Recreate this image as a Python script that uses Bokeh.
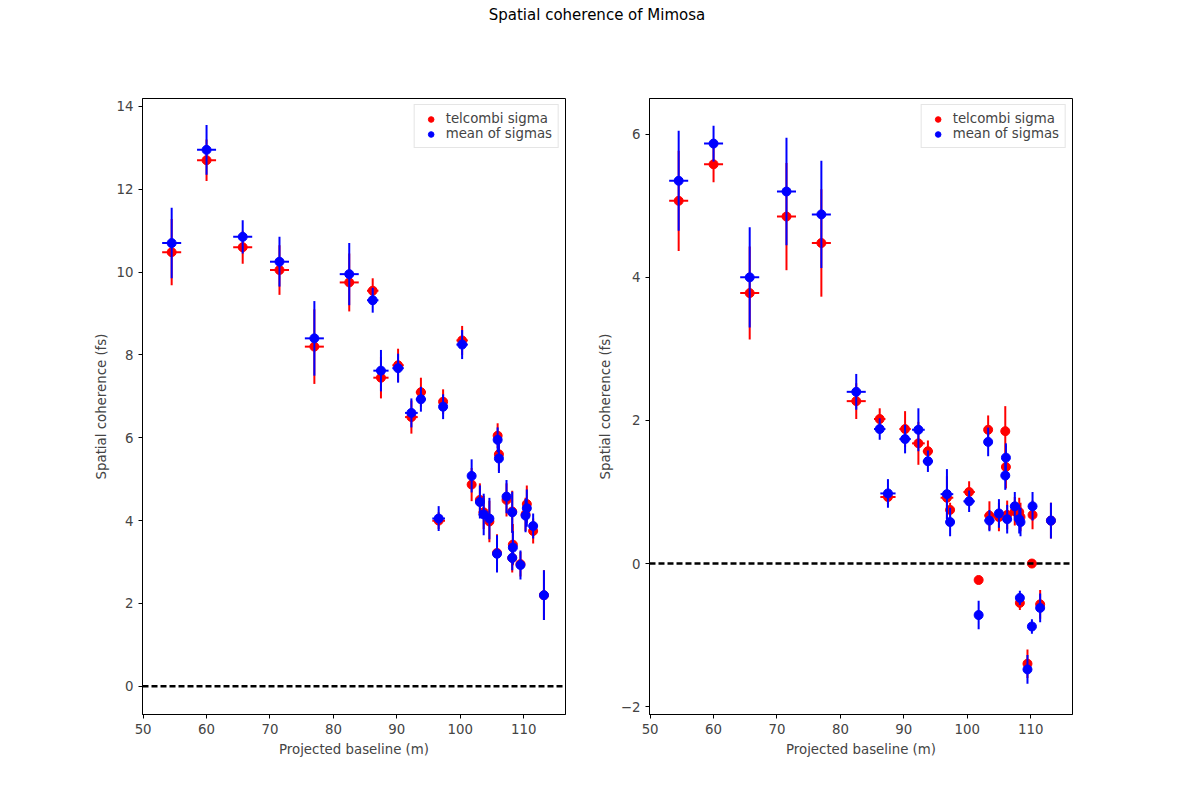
from bokeh.plotting import figure
from bokeh.layouts import column, row
from bokeh.models import Div, Span, Legend, LegendItem, ColumnDataSource
from bokeh.embed import file_html
from bokeh.resources import INLINE

# left panel data
left_x = [54.5, 60, 65.7, 71.5, 77, 82.5, 86.2, 87.5, 90.2, 92.3, 93.8, 96.6, 97.3, 100.3, 101.8,
          103.1, 103.7, 104.6, 105.8, 105.9, 106.1, 107.3, 108.2, 108.3, 108.2, 109.5, 110.5, 110.3, 111.5, 113.2]
left_xerr = [1.5, 1.5, 1.5, 1.5, 1.5, 1.5, 0.9, 1.2, 0.9, 1.0, 0.8, 1.0, 0.6, 0.9, 0.5,
             0.4, 0.8, 0.3, 0, 0, 0, 0.4, 0.3, 0, 0, 0, 0, 0, 0, 0]
left_red = [10.48, 12.7, 10.6, 10.05, 8.2, 9.75, 9.55, 7.45, 7.75, 6.5, 7.1, 4.0, 6.87, 8.35, 4.87,
            4.5, 4.2, 3.98, 3.22, 6.05, 5.6, 4.5, 4.22, 3.42, 3.1, 2.95, 4.4, 4.15, 3.75, 2.2]
left_red_err = [0.8, 0.5, 0.4, 0.6, 0.9, 0.7, 0.3, 0.5, 0.4, 0.4, 0.35, 0.2, 0.3, 0.35, 0.4,
                0.4, 0.4, 0.5, 0.45, 0.3, 0.4, 0.4, 0.5, 0.5, 0.35, 0.3, 0.45, 0.4, 0.3, 0.6]
left_blue = [10.7, 12.95, 10.85, 10.25, 8.4, 9.95, 9.32, 7.62, 7.68, 6.6, 6.93, 4.05, 6.75, 8.25, 5.08,
             4.45, 4.15, 4.05, 3.2, 5.95, 5.5, 4.58, 4.2, 3.35, 3.1, 2.93, 4.3, 4.12, 3.87, 2.2]
left_blue_err = [0.85, 0.6, 0.4, 0.6, 0.9, 0.75, 0.3, 0.5, 0.35, 0.35, 0.3, 0.3, 0.3, 0.35, 0.4,
                 0.4, 0.5, 0.5, 0.45, 0.3, 0.35, 0.4, 0.5, 0.4, 0.3, 0.35, 0.45, 0.4, 0.3, 0.6]

# right panel data
right_x = [54.5, 60, 65.7, 71.5, 77, 82.5, 86.2, 87.5, 90.2, 92.3, 93.8, 96.8, 97.3, 100.3, 101.8,
           103.3, 103.5, 105, 106, 106.1, 106.3, 107.5, 108.2, 108.3, 108.4, 109.5, 110.2, 110.3, 111.5, 113.2]
right_xerr = left_xerr
right_red = [5.07, 5.58, 3.78, 4.85, 4.48, 2.27, 2.02, 0.93, 1.88, 1.68, 1.57, 0.92, 0.75, 1.0, -0.23,
             1.87, 0.67, 0.65, 1.85, 1.35, 0.68, 0.73, 0.72, -0.55, 0.65, -1.4, 0.0, 0.68, -0.57, 0.6]
right_red_err = [0.7, 0.25, 0.65, 0.75, 0.75, 0.25, 0.15, 0.1, 0.25, 0.3, 0.15, 0.3, 0.1, 0.15, 0.03,
                 0.2, 0.2, 0.2, 0.35, 0.3, 0.2, 0.2, 0.2, 0.1, 0.2, 0.2, 0.03, 0.2, 0.2, 0.25]
right_blue = [5.35, 5.87, 4.0, 5.2, 4.88, 2.4, 1.88, 0.98, 1.74, 1.87, 1.43, 0.97, 0.58, 0.87, -0.72,
              1.7, 0.6, 0.7, 1.23, 1.48, 0.62, 0.8, 0.62, -0.48, 0.58, -1.48, -0.88, 0.8, -0.62, 0.6]
right_blue_err = [0.7, 0.25, 0.7, 0.75, 0.75, 0.25, 0.15, 0.2, 0.2, 0.3, 0.15, 0.35, 0.2, 0.15, 0.2,
                  0.2, 0.15, 0.2, 0.2, 0.2, 0.2, 0.2, 0.2, 0.1, 0.2, 0.2, 0.1, 0.2, 0.2, 0.25]


def add_series(p, x, xerr, y, yerr, color):
    src = ColumnDataSource(dict(
        x=x, y=y,
        x0=[a - e for a, e in zip(x, xerr)], x1=[a + e for a, e in zip(x, xerr)],
        y0=[a - e for a, e in zip(y, yerr)], y1=[a + e for a, e in zip(y, yerr)]))
    p.segment(x0="x", y0="y0", x1="x", y1="y1", source=src, line_color=color, line_width=2)
    p.segment(x0="x0", y0="y", x1="x1", y1="y", source=src, line_color=color, line_width=2)
    dots = p.scatter("x", "y", source=src, size=9, color=color)
    return dots


def make_panel(x, xerr, red, red_err, blue, blue_err, y_range, border_left, border_right):
    p = figure(width=border_left + 423 + border_right, height=730,
               x_range=(49.9, 116.6), y_range=y_range,
               min_border_left=border_left, min_border_right=border_right,
               min_border_top=34, min_border_bottom=80,
               output_backend="svg", toolbar_location=None)
    p.xgrid.visible = False
    p.ygrid.visible = False
    p.outline_line_color = "black"
    p.outline_line_alpha = 1
    for ax in [p.xaxis, p.yaxis]:
        ax.minor_tick_line_color = None
        ax.major_label_text_font_size = "10pt"
        ax.major_label_text_font = "DejaVu Sans"
        ax.axis_label_text_font = "DejaVu Sans"
        ax.axis_label_text_font_size = "10pt"
        ax.axis_label_text_font_style = "normal"
        ax.major_tick_in = 0
        ax.major_tick_out = 4
    p.xaxis.axis_label = "Projected baseline (m)"
    p.yaxis.axis_label = "Spatial coherence (fs)"
    p.xaxis.ticker = [50, 60, 70, 80, 90, 100, 110]

    p.add_layout(Span(location=0, dimension="width", line_color="black",
                      line_dash="6 3", line_width=2.5))
    r = add_series(p, x, xerr, red, red_err, "red")
    b = add_series(p, x, xerr, blue, blue_err, "blue")
    legend = Legend(items=[LegendItem(label="telcombi sigma", renderers=[r]),
                           LegendItem(label="mean of sigmas", renderers=[b])],
                    location="top_right", label_text_font_size="10pt",
                    label_text_font="DejaVu Sans", border_line_color="#cccccc",
                    spacing=0, padding=6, margin=6, label_height=14, glyph_height=14)
    p.add_layout(legend)
    return p


left = make_panel(left_x, left_xerr, left_red, left_red_err, left_blue, left_blue_err,
                  (-0.68, 14.19), 142, 27)
right = make_panel(right_x, right_xerr, right_red, right_red_err, right_blue, right_blue_err,
                   (-2.11, 6.5), 57, 112)

title = Div(text="<div style='width:1184px;text-align:center;font-family:DejaVu Sans;"
                 "font-size:15px'>Spatial coherence of Mimosa</div>",
            width=1184, height=54)

layout = column(title, row(left, right, spacing=0), spacing=0)

open("out.html", "w").write(file_html(layout, INLINE))
